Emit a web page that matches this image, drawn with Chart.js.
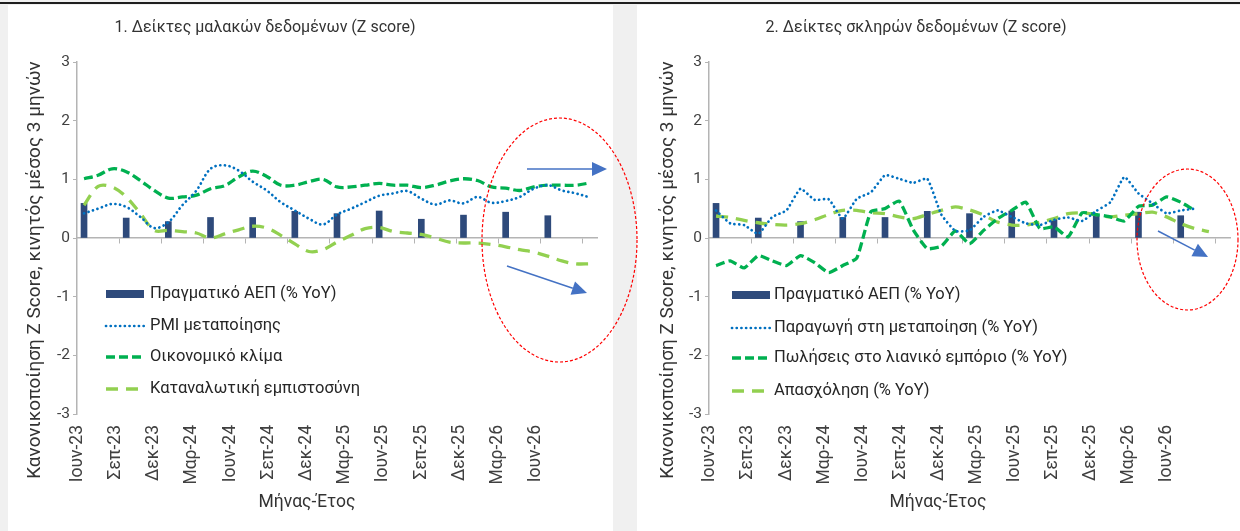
<!DOCTYPE html>
<html>
<head>
<meta charset="utf-8">
<script src="https://cdn.jsdelivr.net/npm/chart.js@4.4.1/dist/chart.umd.min.js"></script>
<style>
  body { margin: 0; background: #f0f0f0; width: 1240px; height: 531px; overflow: hidden; position: relative; }
  #topline { position: absolute; left: 0; top: 2px; width: 1240px; height: 2px; background: #1e1e1e; }
  .panel { position: absolute; top: 5px; height: 526px; background: #fff; }
  canvas { position: absolute; top: 4px; }
</style>
</head>
<body>
<div id="topline"></div>
<div class="panel" style="left:8px;width:605px"></div>
<div class="panel" style="left:637px;width:603px"></div>
<canvas id="soft" width="632" height="527" style="left:8px"></canvas>
<canvas id="hard" width="603" height="527" style="left:637px"></canvas>
<script>
// monthly categories
const months = ['Ιουν-23','Ιουλ-23','Αυγ-23','Σεπ-23','Οκτ-23','Νοε-23','Δεκ-23',
  'Ιαν-24','Φεβ-24','Μαρ-24','Απρ-24','Μαϊ-24','Ιουν-24','Ιουλ-24','Αυγ-24','Σεπ-24','Οκτ-24','Νοε-24','Δεκ-24',
  'Ιαν-25','Φεβ-25','Μαρ-25','Απρ-25','Μαϊ-25','Ιουν-25','Ιουλ-25','Αυγ-25','Σεπ-25','Οκτ-25','Νοε-25','Δεκ-25',
  'Ιαν-26','Φεβ-26','Μαρ-26','Απρ-26','Μαϊ-26','Ιουν-26'];
const tickLabels = ['Ιουν-23','Σεπ-23','Δεκ-23','Μαρ-24','Ιουν-24','Σεπ-24','Δεκ-24','Μαρ-25','Ιουν-25','Σεπ-25','Δεκ-25','Μαρ-26','Ιουν-26'];

// quarterly real GDP (bars)
const gdpQuarters = ['Ιουν-23','Σεπ-23','Δεκ-23','Μαρ-24','Ιουν-24','Σεπ-24','Δεκ-24','Μαρ-25','Ιουν-25','Σεπ-25','Δεκ-25','Μαρ-26'];
const gdp = [0.59, 0.34, 0.28, 0.35, 0.35, 0.455, 0.415, 0.46, 0.32, 0.39, 0.44, 0.38];

// chart 1: soft data
const pmi = [0.42,0.50,0.58,0.53,0.36,0.17,0.27,0.56,0.81,1.18,1.24,1.15,0.96,0.81,0.61,0.47,0.33,0.23,0.40,0.50,
  0.61,0.72,0.76,0.80,0.67,0.57,0.64,0.59,0.70,0.60,0.63,0.70,0.84,0.90,0.81,0.76,0.69];
const climate = [1.01,1.07,1.18,1.13,0.98,0.81,0.68,0.70,0.73,0.84,0.89,1.04,1.14,1.05,0.90,0.90,0.96,1.00,0.87,0.87,
  0.90,0.93,0.90,0.90,0.86,0.90,0.97,1.01,0.98,0.87,0.85,0.81,0.87,0.90,0.90,0.90,0.94];
const confidence = [0.56,0.88,0.87,0.70,0.42,0.13,0.13,0.11,0.085,0.0,0.07,0.14,0.20,0.17,0.045,-0.10,-0.23,-0.20,-0.07,0.045,
  0.16,0.18,0.11,0.085,0.06,0.0,-0.07,-0.085,-0.085,-0.11,-0.15,-0.20,-0.24,-0.31,-0.39,-0.44,-0.44];

// chart 2: hard data
const production = [0.47,0.25,0.22,0.07,0.36,0.47,0.84,0.65,0.66,0.33,0.67,0.78,1.07,1.01,0.94,1.01,0.40,0.12,0.13,0.36,
  0.47,0.36,0.25,0.22,0.31,0.35,0.29,0.46,0.61,1.04,0.76,0.59,0.42,0.47,0.50,null,null];
const retail = [-0.47,-0.39,-0.51,-0.30,-0.39,-0.47,-0.30,-0.42,-0.59,-0.47,-0.34,0.45,0.50,0.63,0.14,-0.18,-0.14,0.12,-0.10,0.13,
  0.33,0.47,0.61,0.16,0.19,0.02,0.43,0.40,0.36,0.29,0.54,0.56,0.70,0.61,0.47,null,null];
const employment = [0.375,0.35,0.30,0.26,0.23,0.22,0.245,0.31,0.40,0.47,0.47,0.43,0.415,0.36,0.33,0.40,0.47,0.53,0.48,0.39,
  0.27,0.22,0.22,0.27,0.33,0.415,0.43,0.40,0.36,0.39,0.415,0.44,0.36,0.245,0.16,0.11,null];

const yTitle = 'Κανονικοποίηση Z Score, κινητός μέσος 3 μηνών';
const xTitle = 'Μήνας-Έτος';
const FONT = 'Roboto, "Noto Sans", sans-serif';
const AXIS = '#b4b4b4';

Chart.defaults.font.family = FONT;

const gdpBars = months.map(m => {
  const k = gdpQuarters.indexOf(m);
  return k >= 0 ? gdp[k] : null;
});

// titles, legend, circles and arrows drawn on top
const overlay = {
  id: 'overlay',
  afterDraw(chart, args, o) {
    const ctx = chart.ctx;
    ctx.save();
    ctx.textBaseline = 'middle';
    ctx.textAlign = 'center';
    ctx.fillStyle = '#333';
    ctx.font = '16px ' + FONT;
    ctx.fillText(o.title, o.titleAt[0], o.titleAt[1]);
    ctx.font = '17.5px ' + FONT;
    ctx.fillText(xTitle, o.xTitleAt[0], o.xTitleAt[1]);
    ctx.save();
    ctx.translate(o.yTitleAt[0], o.yTitleAt[1]);
    ctx.rotate(-Math.PI / 2);
    ctx.font = '19px ' + FONT;
    ctx.fillText(yTitle, 0, 0);
    ctx.restore();

    // legend
    ctx.textAlign = 'left';
    const [x0, x1, tx] = o.legendX;
    chart.data.datasets.forEach((ds, k) => {
      const y = o.legendY[k];
      if (ds.type === 'bar') {
        ctx.fillStyle = ds.backgroundColor;
        ctx.fillRect(x0, y - 4, x1 - x0, 8);
      } else {
        ctx.beginPath();
        ctx.strokeStyle = ds.borderColor;
        ctx.lineWidth = ds.borderWidth;
        ctx.lineCap = ds.borderCapStyle || 'butt';
        ctx.setLineDash(ds.borderDash || []);
        ctx.moveTo(x0, y);
        ctx.lineTo(x1, y);
        ctx.stroke();
        ctx.setLineDash([]);
        ctx.lineCap = 'butt';
      }
      ctx.fillStyle = '#262626';
      ctx.font = '16.5px ' + FONT;
      ctx.fillText(ds.label, tx, y);
    });

    // red dashed ellipse
    const [cx, cy, rx, ry] = o.ellipse;
    ctx.beginPath();
    ctx.strokeStyle = '#ff0000';
    ctx.lineWidth = 1.2;
    ctx.setLineDash([3, 2]);
    ctx.ellipse(cx, cy, rx, ry, 0, 0, Math.PI * 2);
    ctx.stroke();
    ctx.setLineDash([]);

    // blue arrows
    ctx.strokeStyle = '#4472c4';
    ctx.fillStyle = '#4472c4';
    ctx.lineWidth = 1.5;
    o.arrows.forEach(([xa, ya, xb, yb]) => {
      const len = Math.hypot(xb - xa, yb - ya);
      const ux = (xb - xa) / len, uy = (yb - ya) / len;
      const bx = xb - ux * 15, by = yb - uy * 15;
      ctx.beginPath();
      ctx.moveTo(xa, ya);
      ctx.lineTo(bx, by);
      ctx.stroke();
      ctx.beginPath();
      ctx.moveTo(xb, yb);
      ctx.lineTo(bx - uy * 7, by + ux * 7);
      ctx.lineTo(bx + uy * 7, by - ux * 7);
      ctx.closePath();
      ctx.fill();
    });
    ctx.restore();
  }
};

function lineSet(label, data, color, width, dash, cap, tension, order) {
  return {
    type: 'line', label, data, borderColor: color, borderWidth: width, borderDash: dash,
    borderCapStyle: cap, tension, pointRadius: 0, fill: false, order,
    xAxisID: 'x', yAxisID: 'y'
  };
}

function makeChart(id, lines, o) {
  return new Chart(document.getElementById(id), {
    type: 'bar',
    data: {
      labels: months,
      datasets: [
        {
          type: 'bar', label: 'Πραγματικό ΑΕΠ (% YoY)', data: gdpBars,
          backgroundColor: '#2e4a7b', barThickness: 6, order: 5, xAxisID: 'x', yAxisID: 'y'
        },
        ...lines
      ]
    },
    options: {
      responsive: false,
      animation: false,
      layout: { padding: { left: 0, top: 58, right: o.padRight, bottom: 0 } },
      plugins: { legend: { display: false }, tooltip: { enabled: false }, overlay: o },
      scales: {
        x: {
          type: 'category',
          position: { y: 0 },
          offset: true,
          ticks: { display: false },
          grid: {
            offset: true,
            drawOnChartArea: false,
            drawTicks: true,
            tickLength: 5,
            color: c => (c.index > 0 && c.index < months.length && c.index % 3 === 0) ? AXIS : 'rgba(0,0,0,0)'
          },
          border: { display: true, color: AXIS, width: 1.5 }
        },
        // quarterly tick labels along the bottom
        xl: {
          type: 'linear',
          position: 'bottom',
          offset: false,
          min: o.labelMin,
          max: o.labelMax,
          afterBuildTicks: s => { s.ticks = tickLabels.map((t, k) => ({ value: k })); },
          afterFit: s => { s.height = 117; },
          ticks: {
            autoSkip: false, minRotation: 90, maxRotation: 90, padding: 3,
            color: '#404040', font: { size: 17.5 },
            callback: v => tickLabels[v] ?? ''
          },
          grid: { display: false, offset: false },
          border: { display: false }
        },
        y: {
          min: -3,
          max: 3,
          afterFit: s => { s.width = o.yWidth; },
          ticks: { stepSize: 1, padding: 3, color: '#404040', font: { size: 15.5 } },
          grid: { drawOnChartArea: false, drawTicks: true, tickLength: 4, color: AXIS },
          border: { display: true, color: AXIS, width: 1.5 }
        }
      }
    },
    plugins: [overlay]
  });
}

makeChart('soft', [
  lineSet('PMI μεταποίησης', pmi, '#0070c0', 2.7, [0.1, 4.6], 'round', 0.35, 1),
  lineSet('Οικονομικό κλίμα', climate, '#00b050', 3.3, [9, 4], 'butt', 0.35, 2),
  lineSet('Καταναλωτική εμπιστοσύνη', confidence, '#92d050', 3.3, [12, 8], 'butt', 0.35, 3)
], {
  padRight: 43, yWidth: 69, labelMin: -0.013, labelMax: 13.6,
  title: '1. Δείκτες μαλακών δεδομένων (Z score)',
  titleAt: [257, 24], xTitleAt: [299, 499], yTitleAt: [27, 266],
  legendX: [98, 136, 142], legendY: [290, 322, 353, 385],
  ellipse: [551.5, 236, 77.5, 122],
  arrows: [[519, 165, 599, 165], [499, 262, 579, 289]]
});

makeChart('hard', [
  lineSet('Παραγωγή στη μεταποίηση (% YoY)', production, '#0070c0', 2.7, [0.1, 4.6], 'round', 0.15, 1),
  lineSet('Πωλήσεις στο λιανικό εμπόριο (% YoY)', retail, '#00b050', 3.3, [9, 4], 'butt', 0.15, 2),
  lineSet('Απασχόληση (% YoY)', employment, '#92d050', 3.3, [12, 8], 'butt', 0.25, 3)
], {
  padRight: 10, yWidth: 72, labelMin: -0.026, labelMax: 13.66,
  title: '2. Δείκτες σκληρών δεδομένων (Z score)',
  titleAt: [279, 24], xTitleAt: [301, 499], yTitleAt: [31, 266],
  legendX: [95, 133, 137], legendY: [291, 324, 354, 387],
  ellipse: [550.5, 235.5, 50.5, 70.5],
  arrows: [[521, 227, 571, 253]]
});
</script>
</body>
</html>
